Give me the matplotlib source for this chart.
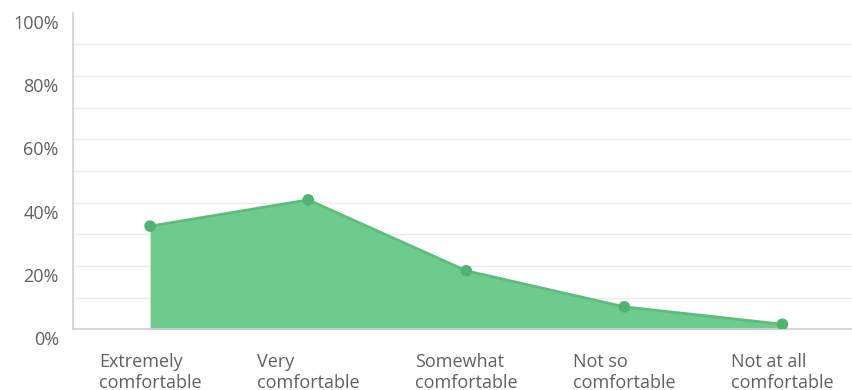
import matplotlib.pyplot as plt
import matplotlib.transforms as mtransforms

# Survey answers (share of respondents, %)
categories = [
    "Extremely\ncomfortable",
    "Very\ncomfortable",
    "Somewhat\ncomfortable",
    "Not so\ncomfortable",
    "Not at all\ncomfortable",
]
shares = [32.6, 40.9, 18.5, 7.1, 1.6]

y_ticks = [0, 20, 40, 60, 80, 100]
y_labels = ["0%", "20%", "40%", "60%", "80%", "100%"]
grid_levels = [10, 20, 30, 40, 50, 60, 70, 80, 90]

FILL = "#6dcb8d"
LINE = "#5dbd7d"
DOT = "#4fb473"
TEXT = "#606060"

plt.rcParams["font.family"] = ["Open Sans", "DejaVu Sans"]

fig = plt.figure(figsize=(8.52, 3.90), dpi=100)
ax = fig.add_axes([0.0853, 0.1556, 0.9147, 0.8116])

x = list(range(len(categories)))

# light horizontal rules every 10%
for lvl in grid_levels:
    ax.axhline(lvl, color="#ebebeb", lw=1.0, zorder=0)

ax.fill_between(x, shares, 0, color=FILL, lw=0, zorder=2)
ax.plot(x, shares, color=LINE, lw=2, zorder=3)
ax.scatter(x, shares, s=70, color=DOT, zorder=4, edgecolors="none")

ax.set_xlim(-0.49, 4.44)
ax.set_ylim(0, 100)

for side in ["top", "right"]:
    ax.spines[side].set_visible(False)
ax.spines["left"].set_color("#cfcfcf")
ax.spines["bottom"].set_color("#cfcfcf")
ax.spines["left"].set_linewidth(1.2)
ax.spines["bottom"].set_linewidth(1.2)

ax.set_xticks(x)
ax.set_xticklabels(categories, fontsize=13, color=TEXT, linespacing=1.2,
                   multialignment="left")
ax.set_yticks(y_ticks)
ax.set_yticklabels(y_labels, fontsize=13, color=TEXT)
ax.tick_params(axis="both", length=0)
ax.tick_params(axis="x", pad=17)
ax.tick_params(axis="y", pad=10)

# y labels sit a little below their rules
shift = mtransforms.ScaledTranslation(0, -9 / 100, fig.dpi_scale_trans)
for lab in ax.get_yticklabels():
    lab.set_transform(lab.get_transform() + shift)

fig.savefig("out.png", dpi=100)
